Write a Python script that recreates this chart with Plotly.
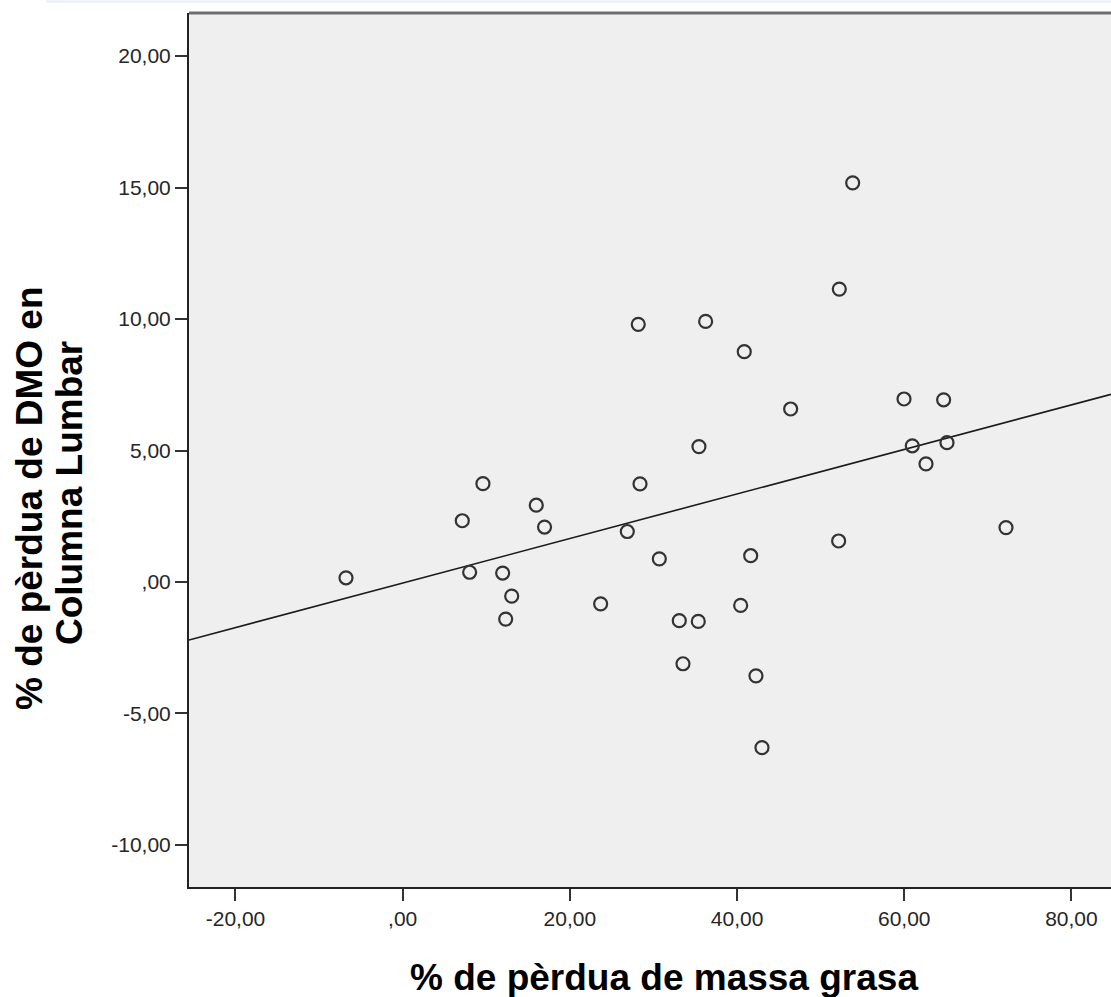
import plotly.graph_objects as go

# Data
fat_loss = [-6.78, 7.13, 9.60, 8.01, 11.96, 13.04, 12.32, 15.98, 16.97,
            23.68, 26.87, 28.18, 28.39, 30.70, 33.09, 33.53, 35.36, 35.44,
            36.24, 40.43, 40.86, 41.63, 42.26, 42.98, 46.41, 52.15, 52.23,
            53.83, 59.97, 60.96, 62.60, 64.71, 65.11, 72.17]
bmd_loss = [0.16, 2.33, 3.74, 0.37, 0.34, -0.54, -1.41, 2.92, 2.09,
            -0.83, 1.92, 9.80, 3.73, 0.88, -1.47, -3.11, -1.50, 5.15,
            9.91, -0.89, 8.76, 1.00, -3.57, -6.30, 6.58, 1.56, 11.14,
            15.18, 6.96, 5.18, 4.49, 6.93, 5.30, 2.07]

fit_intercept = -0.04
fit_slope = 0.0847

x_range = [-25.56, 84.73]
y_range = [-11.60, 21.64]

x_tickvals = [-20, 0, 20, 40, 60, 80]
x_ticktext = ["-20,00", ",00", "20,00", "40,00", "60,00", "80,00"]
y_tickvals = [-10, -5, 0, 5, 10, 15, 20]
y_ticktext = ["-10,00", "-5,00", ",00", "5,00", "10,00", "15,00", "20,00"]

x_title = "% de pèrdua de massa grasa"
y_title_lines = ["% de pèrdua de DMO en", "Columna Lumbar"]

fit_x = [x_range[0], x_range[1]]
fit_y = [fit_intercept + fit_slope * v for v in fit_x]

W, H = 1111, 997
L, T, B = 189, 13, 110
PW, PH = W - L, H - T - B


def px_x(p):
    return (p - L) / PW


def px_y(p):
    return (H - B - p) / PH


fig = go.Figure()
fig.add_trace(go.Scatter(
    x=fit_x, y=fit_y, mode="lines",
    line=dict(color="#1a1a1a", width=1.6),
    hoverinfo="skip", showlegend=False))
fig.add_trace(go.Scatter(
    x=fat_loss, y=bmd_loss, mode="markers",
    marker=dict(symbol="circle-open", size=13,
                line=dict(color="#333333", width=2.2), color="#333333"),
    showlegend=False))

font_family = "Liberation Sans, Arial, sans-serif"
tickfont = dict(family=font_family, size=21, color="#262626")

title_font = dict(family=font_family, size=37, color="#000000")

fig.update_layout(
    width=W, height=H,
    margin=dict(l=L, r=0, t=T, b=B),
    paper_bgcolor="white",
    plot_bgcolor="#efefef",
    xaxis=dict(range=x_range, tickvals=x_tickvals, ticktext=x_ticktext,
               showgrid=False, zeroline=False, showline=True,
               linecolor="#222222", linewidth=2,
               ticks="outside", ticklen=12, tickwidth=2, tickcolor="#333333",
               tickfont=tickfont),
    yaxis=dict(range=y_range, tickvals=y_tickvals, ticktext=y_ticktext,
               showgrid=False, zeroline=False, showline=True,
               linecolor="#222222", linewidth=2,
               ticks="outside", ticklen=12, tickwidth=2, tickcolor="#333333",
               tickfont=tickfont),
    annotations=[
        dict(text="<b>" + x_title + "</b>", xref="paper", yref="paper",
             x=px_x(664), y=px_y(977),
             xanchor="center", yanchor="middle", showarrow=False,
             font=title_font),
        dict(text="<b>" + y_title_lines[0] + "</b>", xref="paper", yref="paper",
             x=px_x(29), y=px_y(498), textangle=-90,
             xanchor="center", yanchor="middle", showarrow=False,
             font=title_font),
        dict(text="<b>" + y_title_lines[1] + "</b>", xref="paper", yref="paper",
             x=px_x(69), y=px_y(493), textangle=-90,
             xanchor="center", yanchor="middle", showarrow=False,
             font=title_font),
    ],
    shapes=[
        dict(type="line", xref="paper", yref="paper", x0=0, x1=1, y0=1, y1=1,
             line=dict(color="#6e6e6e", width=3)),
        dict(type="line", xref="paper", yref="paper",
             x0=px_x(46), x1=1, y0=px_y(1.5), y1=px_y(1.5),
             line=dict(color="#e6eef9", width=2)),
    ],
)

fig.write_html(
    "out.html",
    config={"displayModeBar": False},
    post_script="document.body.style.margin='0';"
                "document.body.style.overflow='hidden';"
                "document.documentElement.style.overflow='hidden';",
)
